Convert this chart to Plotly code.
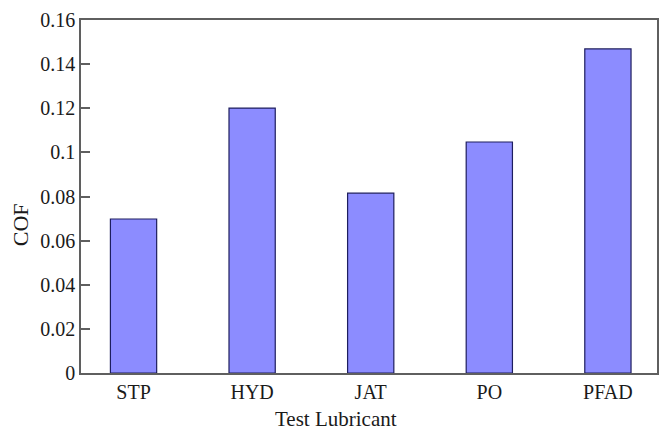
import plotly.graph_objects as go

categories = ["STP", "HYD", "JAT", "PO", "PFAD"]
cof = [0.0698, 0.1201, 0.0815, 0.1047, 0.1469]
y_ticks = [0, 0.02, 0.04, 0.06, 0.08, 0.1, 0.12, 0.14, 0.16]
y_tick_text = ["0", "0.02", "0.04", "0.06", "0.08", "0.1", "0.12", "0.14", "0.16"]

FONT = "Liberation Serif, Times New Roman, serif"

fig = go.Figure()
fig.add_trace(go.Bar(
    x=categories, y=cof, width=0.39,
    marker=dict(color="#8c8cff", line=dict(color="#1e1e5e", width=1.2)),
    showlegend=False,
))

fig.update_layout(
    width=662, height=430,
    margin=dict(l=81, r=3, t=20, b=57),
    paper_bgcolor="white", plot_bgcolor="white",
    font=dict(family=FONT, size=20, color="#1a1a1a"),
    bargap=0.6,
    xaxis=dict(
        type="category", range=[-0.443, 4.414],
        showgrid=False, zeroline=False,
        showline=True, linecolor="#5f5f5f", linewidth=1.5, mirror=True,
        ticks="", tickfont=dict(family=FONT, size=20, color="#1a1a1a"),
    ),
    yaxis=dict(
        range=[0, 0.16], tickvals=y_ticks, ticktext=y_tick_text,
        showgrid=False, zeroline=False,
        showline=True, linecolor="#5f5f5f", linewidth=1.5, mirror=True,
        ticks="inside", ticklen=9, tickwidth=1.5, tickcolor="#5f5f5f",
        tickfont=dict(family=FONT, size=20, color="#1a1a1a"),
    ),
    annotations=[
        dict(text="Test Lubricant", x=337, y=419, xref="paper", yref="paper",
             showarrow=False, font=dict(family=FONT, size=21, color="#1a1a1a")),
        dict(text="COF", x=20, y=225, textangle=-90, showarrow=False,
             font=dict(family=FONT, size=22, color="#1a1a1a")),
    ],
)

# convert pixel positions for annotations into paper coords
pw = 662 - 81 - 3
ph = 430 - 20 - 57
anns = []
for a in fig.layout.annotations:
    px, py = a.x, a.y
    a.update(x=(px - 81) / pw, y=1 - (py - 20) / ph, xref="paper", yref="paper",
             xanchor="center", yanchor="middle")
fig.write_html("out.html")
